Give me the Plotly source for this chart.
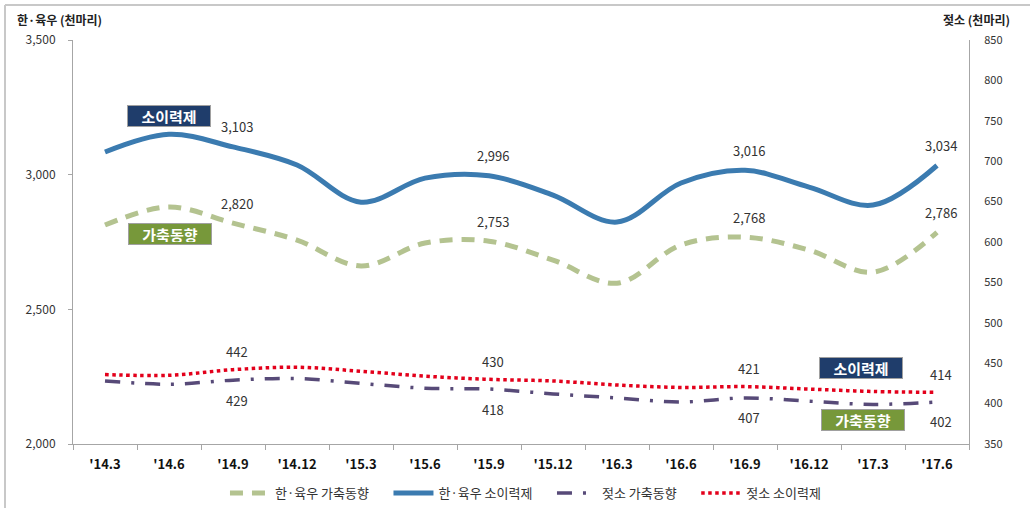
import plotly.graph_objects as go

categories = ["'14.3", "'14.6", "'14.9", "'14.12", "'15.3", "'15.6", "'15.9",
              "'15.12", "'16.3", "'16.6", "'16.9", "'16.12", "'17.3", "'17.6"]

hanwoo_census = [2813, 2880, 2820, 2757, 2661, 2746, 2753, 2683, 2597, 2739, 2768, 2720, 2638, 2786]
hanwoo_trace = [3084, 3150, 3103, 3036, 2898, 2987, 2996, 2924, 2824, 2969, 3016, 2954, 2887, 3034]
dairy_census = [428, 424, 429, 431, 425, 419, 418, 412, 407, 402, 407, 403, 399, 402]
dairy_trace = [436, 435, 442, 445, 440, 434, 430, 428, 423, 420, 421, 418, 415, 414]

label_idx = [2, 6, 10, 13]

left_ticks = [2000, 2500, 3000, 3500]
right_ticks = [350, 400, 450, 500, 550, 600, 650, 700, 750, 800, 850]

FONT = "Noto Sans CJK KR"
PAD = "\u00a0" * 5

fig = go.Figure()
fig.add_trace(go.Scatter(x=categories, y=hanwoo_census, name="한·육우 가축동향" + PAD, mode="lines",
                         line=dict(color="#b4c390", width=5, dash="13px,9px", shape="spline", smoothing=1)))
fig.add_trace(go.Scatter(x=categories, y=hanwoo_trace, name="한·육우 소이력제" + PAD, mode="lines",
                         line=dict(color="#3b7bb0", width=5, shape="spline", smoothing=1)))
fig.add_trace(go.Scatter(x=categories, y=dairy_census, name="젖소 가축동향" + PAD, mode="lines", yaxis="y2",
                         line=dict(color="#574a78", width=3.5, dash="15px,11px,3px,11px",
                                   shape="spline", smoothing=1)))
fig.add_trace(go.Scatter(x=categories, y=dairy_trace, name="젖소 소이력제", mode="lines", yaxis="y2",
                         line=dict(color="#e3001b", width=3.5, dash="dot", shape="spline", smoothing=1)))

annotations = []
for series, yref, shift in [(hanwoo_trace, "y", 20), (hanwoo_census, "y", 20),
                            (dairy_trace, "y2", 18), (dairy_census, "y2", -20)]:
    for i in label_idx:
        annotations.append(dict(x=categories[i], y=series[i], xref="x", yref=yref,
                                text=f"{series[i]:,}", showarrow=False, yshift=shift,
                                xshift=4, font=dict(size=13, color="#333333", family=FONT)))

def px_x(p):
    return (p - 73) / 896

def px_y(p):
    return (444 - p) / 404

for text, cx, cy, bg in [("소이력제", 169, 116, "#1f3d6b"), ("가축동향", 170, 234, "#77983a"),
                         ("소이력제", 861, 368, "#1f3d6b"), ("가축동향", 863, 420, "#77983a")]:
    annotations.append(dict(x=px_x(cx), y=px_y(cy), xref="paper", yref="paper", showarrow=False,
                            xanchor="center", yanchor="middle",
                            text=f"<b>{text}</b>", bgcolor=bg, bordercolor="#a0a0a0", borderwidth=1,
                            borderpad=2, width=78, height=16,
                            font=dict(size=15, color="white", family=FONT)))

annotations.append(dict(x=px_x(15), y=px_y(20), xref="paper", yref="paper", xanchor="left",
                        yanchor="middle", showarrow=False, text="<b>한·육우 (천마리)</b>",
                        font=dict(size=12, color="#222222", family=FONT)))
annotations.append(dict(x=px_x(1012), y=px_y(20), xref="paper", yref="paper", xanchor="right",
                        yanchor="middle", showarrow=False, text="<b>젖소 (천마리)</b>",
                        font=dict(size=12, color="#222222", family=FONT)))

shapes = [
    dict(type="line", xref="paper", yref="paper", x0=px_x(5), x1=px_x(1030), y0=px_y(5), y1=px_y(5),
         line=dict(color="#c8c8c8", width=2)),
    dict(type="line", xref="paper", yref="paper", x0=px_x(5), x1=px_x(5), y0=px_y(5), y1=px_y(508),
         line=dict(color="#c8c8c8", width=2)),
]

fig.update_layout(
    width=1030, height=508,
    margin=dict(l=73, r=61, t=40, b=64, autoexpand=False),
    paper_bgcolor="white", plot_bgcolor="white",
    font=dict(family=FONT, color="#333333"),
    showlegend=True,
    legend=dict(orientation="h", x=0.505, xanchor="center", y=px_y(493), yanchor="middle",
                font=dict(size=13, color="#333333", family=FONT), itemwidth=40,
                bgcolor="rgba(0,0,0,0)"),
    xaxis=dict(type="category", range=[-0.5, 13.5], automargin=False, showgrid=False,
               showline=True, linecolor="#a6a6a6", linewidth=1,
               ticks="outside", tickson="boundaries", ticklen=5, tickcolor="#a6a6a6",
               tickfont=dict(size=13, color="#111111", family=FONT), ticklabelstandoff=8,
               tickprefix="<b>", ticksuffix="</b>"),
    yaxis=dict(range=[2000, 3500], tickvals=left_ticks, ticktext=[f"{v:,}" for v in left_ticks],
               automargin=False, showgrid=False, zeroline=False, showline=True,
               linecolor="#a6a6a6", linewidth=1,
               ticks="outside", ticklen=4, tickcolor="#a6a6a6",
               tickfont=dict(size=12, color="#333333", family=FONT), ticklabelstandoff=10),
    yaxis2=dict(range=[350, 850], tickvals=right_ticks, overlaying="y", side="right",
                automargin=False, showgrid=False, zeroline=False, showline=True,
                linecolor="#a6a6a6", linewidth=1,
                tickfont=dict(size=11, color="#333333", family=FONT), ticklabelstandoff=12),
    annotations=annotations,
    shapes=shapes,
)

fig.write_html("out.html")
